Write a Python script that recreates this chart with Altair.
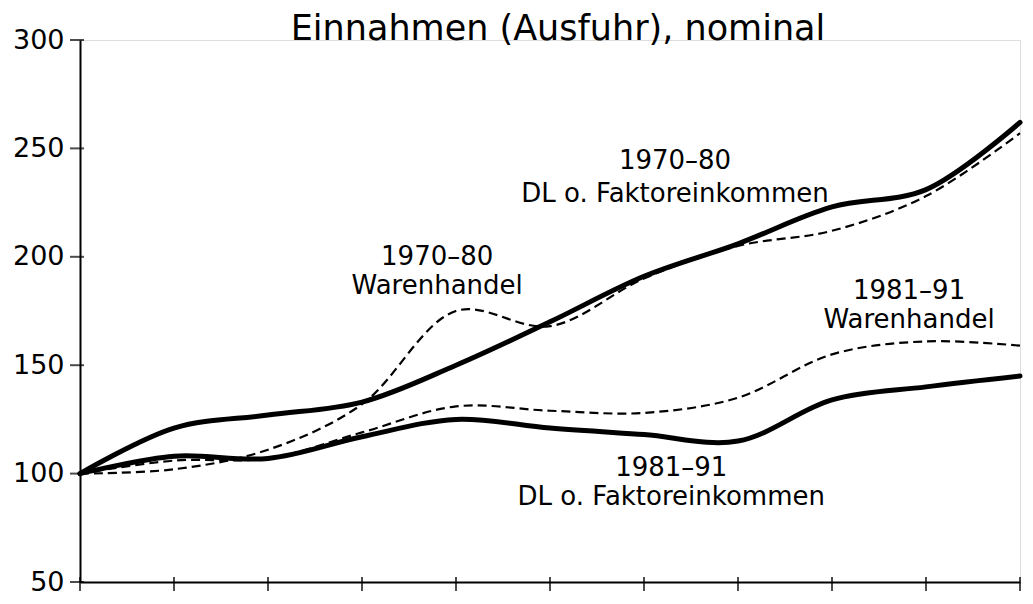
import altair as alt
import pandas as pd

# x positions (tick index along the time axis, 0..10)
steps = list(range(11))
y_ticks = [50, 100, 150, 200, 250, 300]

# series values (index, start = 100)
dl_7080 = [100, 121, 127, 133, 150, 170, 191, 206, 223, 231, 262]
wh_7080 = [100, 102, 111, 132, 175, 168, 190, 205, 212, 228, 257]
dl_8191 = [100, 108, 107, 117, 125, 121, 118, 115, 134, 140, 145]
wh_8191 = [100, 106, 107, 119, 131, 129, 128, 135, 155, 161, 159]

# annotations
ann_text = ["1970–80", "Warenhandel",
            "1970–80", "DL o. Faktoreinkommen",
            "1981–91", "Warenhandel",
            "1981–91", "DL o. Faktoreinkommen"]
ann_x = [3.80, 3.80, 6.33, 6.33, 8.82, 8.82, 6.29, 6.29]
ann_y = [200, 186.6, 244, 229, 184, 171, 102.8, 89.4]

FONT = "DejaVu Sans"

rows = []
for name, vals, kind in [("DL 1970-80", dl_7080, "solid"),
                         ("WH 1970-80", wh_7080, "dashed"),
                         ("DL 1981-91", dl_8191, "solid"),
                         ("WH 1981-91", wh_8191, "dashed")]:
    for s, v in zip(steps, vals):
        rows.append({"step": s, "value": v, "series": name, "kind": kind})
df = pd.DataFrame(rows)

ann = pd.DataFrame({"text": ann_text, "x": ann_x, "y": ann_y})
yt = pd.DataFrame({"v": y_ticks, "x0": [0] * len(y_ticks)})
xt = pd.DataFrame({"s": steps, "y0": [50] * len(steps)})

xscale = alt.Scale(domain=[0, 10], nice=False, zero=False)
yscale = alt.Scale(domain=[50, 300], nice=False, zero=False)

xaxis = alt.Axis(values=steps, labels=False, ticks=False, grid=False,
                 domain=True, domainColor="black", domainWidth=2, title=None)
yaxis = alt.Axis(values=y_ticks, ticks=False, grid=False, domain=True,
                 domainColor="black", domainWidth=2, title=None,
                 labelFont=FONT, labelFontSize=27, labelColor="black",
                 labelPadding=16)

base = alt.Chart(df)

solid = base.transform_filter(alt.datum.kind == "solid").mark_line(
    color="black", strokeWidth=5, interpolate="catmull-rom", strokeCap="round"
).encode(
    x=alt.X("step:Q", scale=xscale, axis=xaxis),
    y=alt.Y("value:Q", scale=yscale, axis=yaxis),
    detail="series:N",
)

dashed = base.transform_filter(alt.datum.kind == "dashed").mark_line(
    color="black", strokeWidth=2.2, strokeDash=[9, 5], interpolate="catmull-rom"
).encode(
    x=alt.X("step:Q", scale=xscale),
    y=alt.Y("value:Q", scale=yscale),
    detail="series:N",
)

ytick_marks = alt.Chart(yt).mark_tick(
    color="black", orient="horizontal", size=14, thickness=2, xOffset=-3
).encode(x=alt.X("x0:Q", scale=xscale), y=alt.Y("v:Q", scale=yscale))

xtick_marks = alt.Chart(xt).mark_tick(
    color="black", orient="vertical", size=14, thickness=2, yOffset=2
).encode(x=alt.X("s:Q", scale=xscale), y=alt.Y("y0:Q", scale=yscale))

labels = alt.Chart(ann).mark_text(
    font=FONT, fontSize=26, color="black", align="center", baseline="middle"
).encode(
    x=alt.X("x:Q", scale=xscale),
    y=alt.Y("y:Q", scale=yscale),
    text="text:N",
)

chart = alt.layer(dashed, solid, ytick_marks, xtick_marks, labels).properties(
    width=940,
    height=542,
    autosize=alt.AutoSizeParams(type="none"),
    padding={"left": 72, "top": 32, "right": 5, "bottom": 20},
    title=alt.TitleParams(
        "Einnahmen (Ausfuhr), nominal", font=FONT, fontSize=35,
        fontWeight="normal", color="black", anchor="middle", frame="group",
        baseline="alphabetic", offset=0, dy=49, dx=8,
    ),
).configure_view(stroke=None).configure(background="white")

chart.save("out.html", embed_options={"renderer": "svg", "actions": False})
